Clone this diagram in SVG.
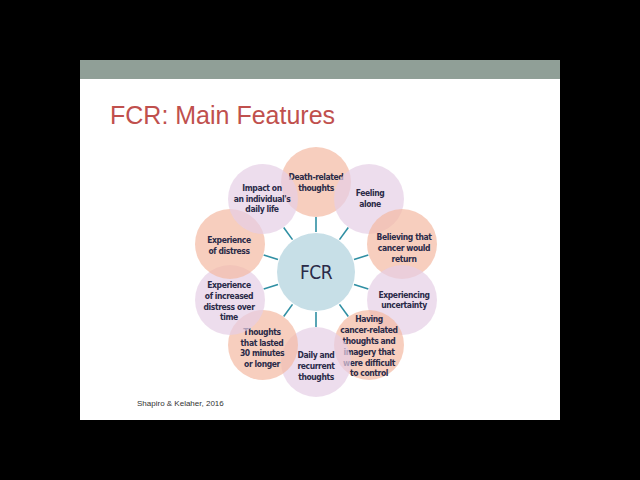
<svg xmlns="http://www.w3.org/2000/svg" width="640" height="480" viewBox="0 0 640 480">
<style>
.t{font-family:"DejaVu Sans Condensed","DejaVu Sans",sans-serif;font-weight:bold;font-size:8.5px;letter-spacing:-0.4px;fill:#2a2a48;text-anchor:middle;font-stretch:condensed}
.s{fill:#f3b9a3;fill-opacity:0.7}
.l{fill:#e6cfe6;fill-opacity:0.7}
.sp{stroke:#2f8fa3;stroke-width:1.6}
</style>
<rect x="0" y="0" width="640" height="480" fill="#000"/>
<rect x="80" y="60" width="480" height="360" fill="#fff"/>
<rect x="80" y="60" width="480" height="19" fill="#909f97"/>
<text x="110" y="124" font-family="Liberation Sans, Arial, sans-serif" font-size="25" fill="#c0504d">FCR: Main Features</text>
<g id="connectors">
<line class="sp" x1="316" y1="232" x2="316" y2="217"/>
<line class="sp" x1="339.5" y1="239.6" x2="348.3" y2="227.5"/>
<line class="sp" x1="354" y1="259.6" x2="368.3" y2="255"/>
<line class="sp" x1="354" y1="284.4" x2="368.3" y2="289"/>
<line class="sp" x1="339.5" y1="304.4" x2="348.3" y2="316.5"/>
<line class="sp" x1="316" y1="312" x2="316" y2="327"/>
<line class="sp" x1="292.5" y1="304.4" x2="283.7" y2="316.5"/>
<line class="sp" x1="278" y1="284.4" x2="263.7" y2="289"/>
<line class="sp" x1="278" y1="259.6" x2="263.7" y2="255"/>
<line class="sp" x1="292.5" y1="239.6" x2="283.7" y2="227.5"/>
</g>
<g id="n1"><circle class="s" cx="316" cy="182" r="35"/><text class="t" x="316" y="180">Death-related</text><text class="t" x="316" y="191">thoughts</text></g>
<g id="n2"><circle class="l" cx="369" cy="199" r="35"/><text class="t" x="370" y="196">Feeling</text><text class="t" x="370" y="207">alone</text></g>
<g id="n3"><circle class="s" cx="402" cy="244" r="35"/><text class="t" x="404" y="240">Believing that</text><text class="t" x="404" y="251">cancer would</text><text class="t" x="404" y="262">return</text></g>
<g id="n4"><circle class="l" cx="402" cy="300" r="35"/><text class="t" x="404" y="298">Experiencing</text><text class="t" x="404" y="308">uncertainty</text></g>
<g id="n5"><circle class="s" cx="369" cy="345" r="35"/><text class="t" x="369" y="322">Having</text><text class="t" x="369" y="333">cancer-related</text><text class="t" x="369" y="344">thoughts and</text><text class="t" x="369" y="355">imagery that</text><text class="t" x="369" y="366">were difficult</text><text class="t" x="369" y="376">to control</text></g>
<g id="n6"><circle class="l" cx="316" cy="362" r="35"/><text class="t" x="316" y="358">Daily and</text><text class="t" x="316" y="369">recurrent</text><text class="t" x="316" y="380">thoughts</text></g>
<g id="n7"><circle class="s" cx="263" cy="345" r="35"/><text class="t" x="262" y="335">Thoughts</text><text class="t" x="262" y="346">that lasted</text><text class="t" x="262" y="356">30 minutes</text><text class="t" x="262" y="367">or longer</text></g>
<g id="n8"><circle class="l" cx="230" cy="300" r="35"/><text class="t" x="229" y="288">Experience</text><text class="t" x="229" y="299">of increased</text><text class="t" x="229" y="310">distress over</text><text class="t" x="229" y="320">time</text></g>
<g id="n9"><circle class="s" cx="230" cy="244" r="35"/><text class="t" x="229" y="243">Experience</text><text class="t" x="229" y="254">of distress</text></g>
<g id="n10"><circle class="l" cx="263" cy="199" r="35"/><text class="t" x="262" y="191">Impact on</text><text class="t" x="262" y="202">an individual's</text><text class="t" x="262" y="212">daily life</text></g>
<g id="center"><circle cx="316" cy="272" r="39" fill="#c7dfe7"/><text x="316" y="279" font-family="DejaVu Sans Condensed, DejaVu Sans, sans-serif" font-size="19" font-stretch="condensed" letter-spacing="-0.5" fill="#2a2a48" text-anchor="middle">FCR</text></g>
<text x="137" y="406" font-family="Liberation Sans, Arial, sans-serif" font-size="8" fill="#333">Shapiro &amp; Kelaher, 2016</text>
</svg>
